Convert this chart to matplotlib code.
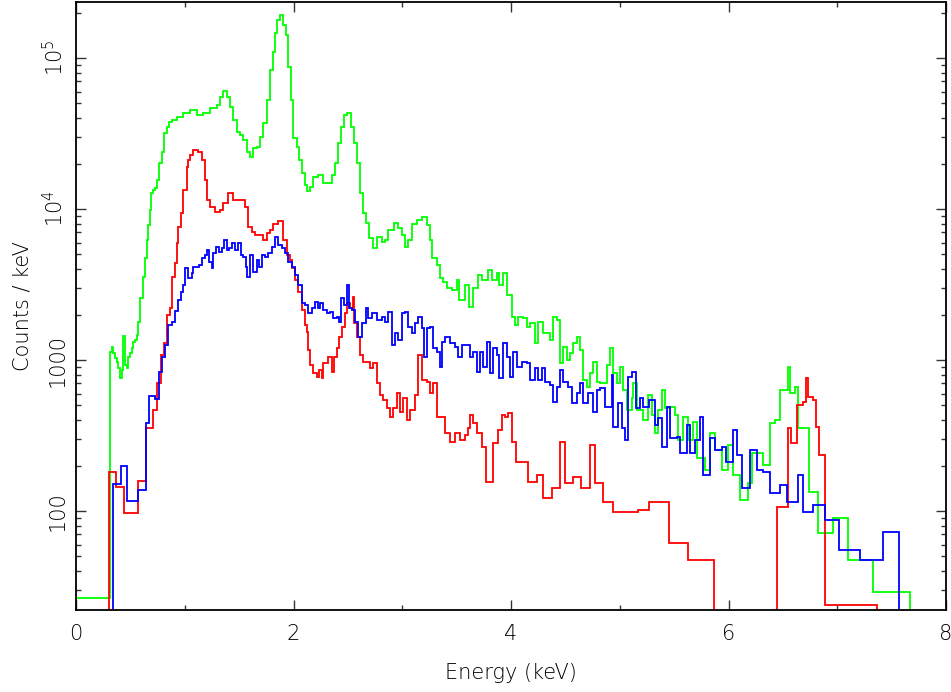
import matplotlib
matplotlib.use("Agg")
import matplotlib.pyplot as plt
from matplotlib.ticker import FixedLocator, FixedFormatter, LogLocator, NullFormatter, MultipleLocator

# ---------------- data (Energy in keV = bin edges, values in counts/keV) ----------------
green_edges = [0.00, 0.313, 0.331, 0.340, 0.359, 0.377, 0.386, 0.405, 0.423, 0.432, 0.451, 0.469, 0.478,
               0.497, 0.515, 0.524, 0.543, 0.561, 0.570, 0.589, 0.616, 0.634, 0.653, 0.662, 0.680, 0.690,
               0.708, 0.726, 0.745, 0.763, 0.791, 0.809, 0.837, 0.855, 0.883, 0.929, 0.984, 1.048, 1.113,
               1.168, 1.232, 1.297, 1.324, 1.352, 1.389, 1.416, 1.444, 1.480, 1.508, 1.536, 1.572, 1.600,
               1.628, 1.664, 1.692, 1.720, 1.756, 1.784, 1.811, 1.830, 1.848, 1.876, 1.903, 1.931, 1.949,
               1.977, 1.995, 2.032, 2.051, 2.078, 2.106, 2.124, 2.152, 2.179, 2.225, 2.271, 2.317, 2.354,
               2.382, 2.409, 2.437, 2.464, 2.492, 2.529, 2.556, 2.584, 2.611, 2.639, 2.667, 2.694, 2.731,
               2.768, 2.814, 2.841, 2.869, 2.924, 2.961, 2.998, 3.025, 3.053, 3.090, 3.136, 3.182, 3.228,
               3.255, 3.274, 3.320, 3.347, 3.375, 3.412, 3.457, 3.503, 3.522, 3.577, 3.614, 3.651, 3.697,
               3.733, 3.789, 3.825, 3.871, 3.890, 3.926, 3.963, 4.009, 4.037, 4.064, 4.110, 4.147, 4.175,
               4.221, 4.248, 4.294, 4.359, 4.386, 4.423, 4.451, 4.478, 4.515, 4.543, 4.570, 4.607, 4.634,
               4.662, 4.699, 4.726, 4.754, 4.791, 4.818, 4.883, 4.910, 4.938, 4.975, 5.002, 5.030, 5.067,
               5.113, 5.122, 5.159, 5.214, 5.260, 5.297, 5.324, 5.352, 5.389, 5.416, 5.462, 5.508, 5.536,
               5.582, 5.628, 5.674, 5.710, 5.784, 5.830, 5.876, 5.940, 5.995, 6.041, 6.106, 6.179, 6.216,
               6.317, 6.382, 6.428, 6.474, 6.547, 6.566, 6.611, 6.639, 6.740, 6.823, 6.961, 7.099, 7.329,
               7.669]
green_counts = [26.5, 1130, 1220, 1113, 1031, 970, 885, 761, 862, 1443, 930, 885, 1047,
                1113, 1201, 1316, 1357, 1464, 1784, 2570, 3547, 4730, 6234, 7836, 9849, 12760,
                13360, 13780, 15560, 20160, 23850, 31900, 34900, 37700, 38900, 40700, 43200, 45300, 41900,
                43200, 46700, 48900, 55600, 60900, 55600, 47300, 38900, 32400, 30900, 28700, 23850, 22100,
                25300, 25700, 30000, 37100, 52700, 83300, 109600, 146400, 178400, 193000, 165400, 142000, 87200,
                52700, 29500, 25700, 21100, 17300, 14430, 13160, 13990, 16300, 16800, 14870, 14870, 16800,
                20160, 27400, 34900, 41900, 43200, 34900, 27400, 20160, 12760, 9400, 8130, 6430, 5560,
                6530, 6090, 6230, 7260, 8130, 7490, 6730, 5640, 6230, 8000, 8460, 8850, 7840,
                6230, 4730, 4260, 3490, 3290, 3000, 2910, 3390, 2500, 3140, 2240, 3000, 3660,
                3390, 3950, 3390, 3770, 3140, 3770, 2700, 1930, 1705, 1930, 1900, 1654, 1760,
                1300, 1780, 1510, 1357, 1930, 1840, 955, 1220, 1000, 1113, 1300, 1420, 1165,
                737, 663, 820, 970, 715, 705, 930, 1200, 820, 705, 900, 633, 467,
                561, 705, 467, 400, 587, 432, 329, 467, 633, 481, 489, 432, 295,
                419, 295, 389, 224, 187, 329, 253, 187, 274, 173, 118, 153, 242,
                202, 382, 400, 633, 900, 604, 663, 355, 134, 71.5, 89.9, 47.4, 29.1]

blue_edges = [0.340, 0.414, 0.469, 0.570, 0.644, 0.671, 0.726, 0.763, 0.791, 0.818, 0.846, 0.883, 0.910,
              0.938, 0.966, 0.984, 1.002, 1.030, 1.067, 1.076, 1.131, 1.159, 1.186, 1.205, 1.223, 1.251,
              1.260, 1.287, 1.315, 1.343, 1.361, 1.389, 1.407, 1.434, 1.462, 1.490, 1.517, 1.536, 1.563,
              1.572, 1.600, 1.628, 1.664, 1.683, 1.710, 1.738, 1.766, 1.802, 1.830, 1.857, 1.894, 1.922,
              1.949, 1.986, 2.014, 2.041, 2.078, 2.106, 2.133, 2.170, 2.198, 2.225, 2.244, 2.271, 2.308,
              2.336, 2.363, 2.400, 2.418, 2.437, 2.464, 2.492, 2.510, 2.538, 2.566, 2.593, 2.630, 2.667,
              2.685, 2.722, 2.768, 2.814, 2.841, 2.869, 2.906, 2.933, 2.961, 2.998, 3.025, 3.053, 3.090,
              3.117, 3.145, 3.182, 3.200, 3.228, 3.255, 3.283, 3.320, 3.347, 3.366, 3.393, 3.439, 3.485,
              3.513, 3.549, 3.623, 3.651, 3.687, 3.715, 3.743, 3.779, 3.807, 3.834, 3.871, 3.890, 3.926,
              3.963, 3.991, 4.018, 4.055, 4.101, 4.147, 4.175, 4.221, 4.248, 4.285, 4.313, 4.359, 4.386,
              4.423, 4.451, 4.478, 4.524, 4.561, 4.607, 4.634, 4.662, 4.708, 4.754, 4.791, 4.818, 4.864,
              4.929, 4.938, 4.984, 5.021, 5.048, 5.076, 5.113, 5.149, 5.186, 5.214, 5.269, 5.324, 5.352,
              5.389, 5.434, 5.462, 5.526, 5.554, 5.618, 5.646, 5.692, 5.738, 5.766, 5.830, 5.876, 5.940,
              5.977, 6.041, 6.078, 6.124, 6.198, 6.262, 6.317, 6.382, 6.474, 6.538, 6.639, 6.685, 6.777,
              6.887, 7.016, 7.209, 7.421, 7.568]
blue_counts = [151, 199, 116.5, 138, 382, 578, 552, 832, 1047, 1257, 1705, 1784, 2100,
               2500, 2820, 3140, 4070, 3490, 3770, 4130, 4260, 4730, 4960, 5350, 4460, 4070,
               5110, 5610, 5190, 5520, 6230, 5350, 5520, 5950, 5350, 5950, 4960, 4810, 4130,
               3550, 4960, 3820, 4600, 4130, 4960, 4810, 5110, 5610, 6530, 5780, 5520, 5110,
               4460, 4130, 3660, 3140, 2390, 2310, 2040, 2210, 2420, 2210, 2390, 2140, 2040,
               2080, 1900, 1930, 1780, 2570, 2310, 3140, 2210, 2140, 1780, 1420, 1760, 2210,
               1900, 2040, 1840, 1930, 1780, 2080, 1257, 1510, 1357, 2040, 2080, 1654, 1510,
               1760, 1930, 1630, 1047, 1630, 1654, 1200, 1130, 900, 1316, 1420, 1300, 1220,
               1047, 1257, 1047, 1130, 832, 1130, 900, 1316, 820, 1200, 1080, 761, 1300,
               1047, 772, 1130, 900, 970, 955, 737, 885, 737, 885, 715, 682, 527,
               663, 862, 715, 663, 519, 604, 705, 519, 604, 453, 633, 653, 489,
               796, 360, 519, 355, 295, 772, 832, 481, 561, 489, 543, 371, 413,
               265, 489, 305, 309, 242, 371, 242, 295, 419, 173, 305, 253, 265,
               211, 344, 235, 142, 253, 187, 181, 132, 149, 115, 173, 98.5, 110,
               87.2, 55.2, 47.4, 72.6]

red_edges = [0.303, 0.368, 0.441, 0.570, 0.644, 0.708, 0.745, 0.782, 0.809, 0.837, 0.864, 0.883, 0.910,
             0.929, 0.938, 0.966, 0.984, 1.021, 1.030, 1.048, 1.076, 1.122, 1.159, 1.186, 1.205, 1.232,
             1.278, 1.324, 1.352, 1.398, 1.444, 1.554, 1.582, 1.618, 1.646, 1.720, 1.756, 1.784, 1.811,
             1.857, 1.903, 1.940, 1.968, 1.986, 2.014, 2.041, 2.078, 2.106, 2.124, 2.133, 2.152, 2.179,
             2.216, 2.234, 2.262, 2.271, 2.317, 2.354, 2.372, 2.400, 2.418, 2.446, 2.474, 2.492, 2.520,
             2.547, 2.556, 2.584, 2.611, 2.639, 2.703, 2.731, 2.768, 2.795, 2.823, 2.860, 2.887, 2.915,
             2.952, 2.979, 3.007, 3.044, 3.071, 3.117, 3.145, 3.182, 3.228, 3.255, 3.283, 3.320, 3.393,
             3.439, 3.485, 3.531, 3.577, 3.605, 3.623, 3.651, 3.687, 3.733, 3.770, 3.834, 3.880, 3.917,
             3.945, 3.972, 4.009, 4.046, 4.156, 4.239, 4.294, 4.377, 4.451, 4.497, 4.570, 4.644, 4.726,
             4.772, 4.846, 4.938, 5.168, 5.269, 5.453, 5.628, 5.867, 6.446, 6.547, 6.575, 6.630, 6.685,
             6.713, 6.731, 6.777, 6.805, 6.832, 6.887, 7.366]
red_counts = [181, 144, 97, 158, 355, 467, 705, 1080, 1300, 1990, 2210, 3550, 4390,
              5950, 7600, 9400, 13360, 19000, 21100, 22800, 24600, 23850, 21100, 15560, 11480, 10310,
              9550, 9850, 10960, 12760, 11480, 10310, 7600, 7050, 6730, 6230, 6930, 7260, 8000,
              8330, 6230, 4960, 4600, 4070, 3390, 2820, 2140, 1705, 1540, 1165, 930, 820,
              772, 862, 761, 955, 1047, 832, 1047, 1200, 1420, 1654, 2040, 2390, 2210,
              2610, 1760, 1420, 1080, 970, 885, 955, 705, 587, 543, 481, 419, 481,
              604, 453, 561, 400, 467, 587, 1080, 737, 715, 604, 705, 419, 329,
              287, 329, 295, 319, 355, 432, 382, 329, 265, 155.6, 282, 344, 432,
              419, 446, 287, 211, 155.6, 173, 122, 142, 287, 153, 168, 142, 274,
              153, 115, 98.5, 101.5, 115, 61.4, 47.4, 0, 106.3, 355, 282, 503, 527,
              761, 569, 543, 360, 235, 23.8]

x_ticks = [0, 2, 4, 6, 8]
y_ticks = [100, 1000, 1e4, 1e5]
y_tick_labels = ["100", "1000", "$10^4$", "$10^5$"]

# ---------------- figure ----------------
plt.rcParams["font.family"] = ["DejaVu Sans"]
plt.rcParams["mathtext.default"] = "regular"

fig = plt.figure(figsize=(9.51, 6.92), dpi=100)
ax = fig.add_axes([76 / 951, 82 / 692, 870 / 951, 608 / 692])

lw = 1.3
ax.stairs(green_counts, green_edges, baseline=0, color="#00ff00", lw=lw)
ax.stairs(red_counts, red_edges, baseline=0, color="#ff0000", lw=lw)
ax.stairs(blue_counts, blue_edges, baseline=0, color="#0000ff", lw=lw)

ax.set_yscale("log", nonpositive="clip")
ax.set_xlim(0, 8)
ax.set_ylim(22.1, 2.35e5)

ax.xaxis.set_major_locator(FixedLocator(x_ticks))
ax.xaxis.set_minor_locator(MultipleLocator(1))
ax.yaxis.set_major_locator(FixedLocator(y_ticks))
ax.yaxis.set_major_formatter(FixedFormatter(y_tick_labels))
ax.yaxis.set_minor_locator(LogLocator(base=10, subs=range(2, 10), numticks=20))
ax.yaxis.set_minor_formatter(NullFormatter())

ax.tick_params(which="both", direction="in", top=True, right=True, color="#333333", width=1.0)
ax.tick_params(which="major", length=7.5)
ax.tick_params(which="minor", length=3.8)
ax.tick_params(axis="x", labelsize=15, pad=10)
ax.tick_params(axis="y", labelsize=15, pad=6, labelrotation=90)
for t in ax.get_yticklabels():
    t.set_va("center")
for t in ax.get_xticklabels() + ax.get_yticklabels():
    t.set_fontweight("light")

for s in ax.spines.values():
    s.set_linewidth(1.3)

ax.set_xlabel("Energy (keV)", fontsize=15, labelpad=14, fontweight="light")
ax.set_ylabel("Counts / keV", fontsize=15, labelpad=7, fontweight="light")

fig.savefig("out.png", dpi=100)
